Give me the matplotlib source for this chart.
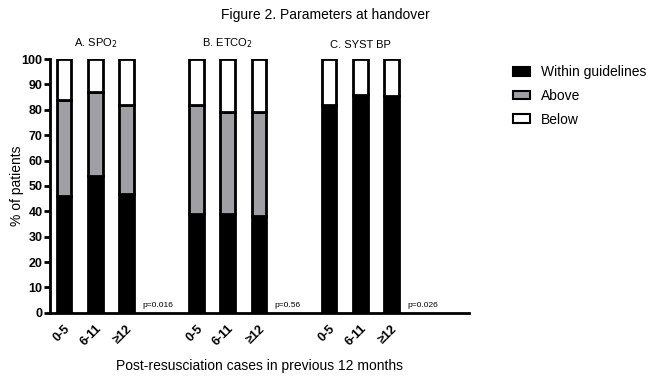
import matplotlib
matplotlib.use("Agg")
import matplotlib.pyplot as plt
from matplotlib.patches import Patch

plt.rcParams['font.family'] = ['Liberation Sans', 'DejaVu Sans']

groups = ["A. SPO$_2$", "B. ETCO$_2$", "C. SYST BP"]
categories = ["0-5", "6-11", "\u226512"]
within = [46, 54, 47, 39, 39, 38, 82, 86, 85.5]
above = [38, 33, 35, 43, 40, 41, 0, 0, 0]
below = [16, 13, 18, 18, 21, 21, 18, 14, 14.5]
pvalues = ["p=0.016", "p=0.56", "p=0.026"]
positions = [0, 1, 2, 4.25, 5.25, 6.25, 8.5, 9.5, 10.5]

fig = plt.figure(figsize=(6.5, 3.76), dpi=100)
ax = fig.add_axes([0.077, 0.168, 0.645, 0.675])

w = 0.47
kw = dict(width=w, edgecolor='black', linewidth=2)
ax.bar(positions, within, color='black', label='Within guidelines', **kw)
ax.bar(positions, above, bottom=within, color='#a0a0a4', label='Above', **kw)
bot2 = [a + b for a, b in zip(within, above)]
ax.bar(positions, below, bottom=bot2, color='white', label='Below', **kw)

ax.set_xlim(-0.45, 13.0)
ax.set_ylim(0, 100)
ax.set_yticks(range(0, 101, 10))
ax.tick_params(axis='y', width=2, length=4, pad=1.5, labelsize=9)
for lab in ax.get_yticklabels():
    lab.set_fontweight('bold')
ax.set_xticks(positions)
ax.set_xticklabels(categories * 3, rotation=45, ha='right', rotation_mode='anchor',
                   fontweight='bold', fontsize=9)
ax.tick_params(axis='x', length=0, pad=7)
for s in ['top', 'right']:
    ax.spines[s].set_visible(False)
for s in ['left', 'bottom']:
    ax.spines[s].set_linewidth(2)

ax.set_ylabel("% of patients", fontsize=10)
ax.yaxis.set_label_coords(-0.062, 0.5)
ax.set_xlabel("Post-resusciation cases in previous 12 months", fontsize=10, labelpad=8)

for i, g in enumerate(groups):
    cx = sum(positions[3 * i:3 * i + 3]) / 3
    ax.text(cx, 103.5, g, ha='center', va='bottom', fontsize=8)
    ax.text(positions[3 * i + 2] + 0.5, 1.5, pvalues[i], ha='left', va='bottom', fontsize=6)

fig.text(0.5, 0.96, "Figure 2. Parameters at handover", ha='center', va='center', fontsize=10)

handles = [Patch(facecolor='black', edgecolor='black', linewidth=1.5),
           Patch(facecolor='#a0a0a4', edgecolor='black', linewidth=1.5),
           Patch(facecolor='white', edgecolor='black', linewidth=1.5)]
fig.legend(handles, ['Within guidelines', 'Above', 'Below'], loc='upper left',
           bbox_to_anchor=(0.77, 0.86), frameon=False, fontsize=10,
           handlelength=1.2, handleheight=0.6, labelspacing=0.7)

fig.savefig("out.png", dpi=100)
